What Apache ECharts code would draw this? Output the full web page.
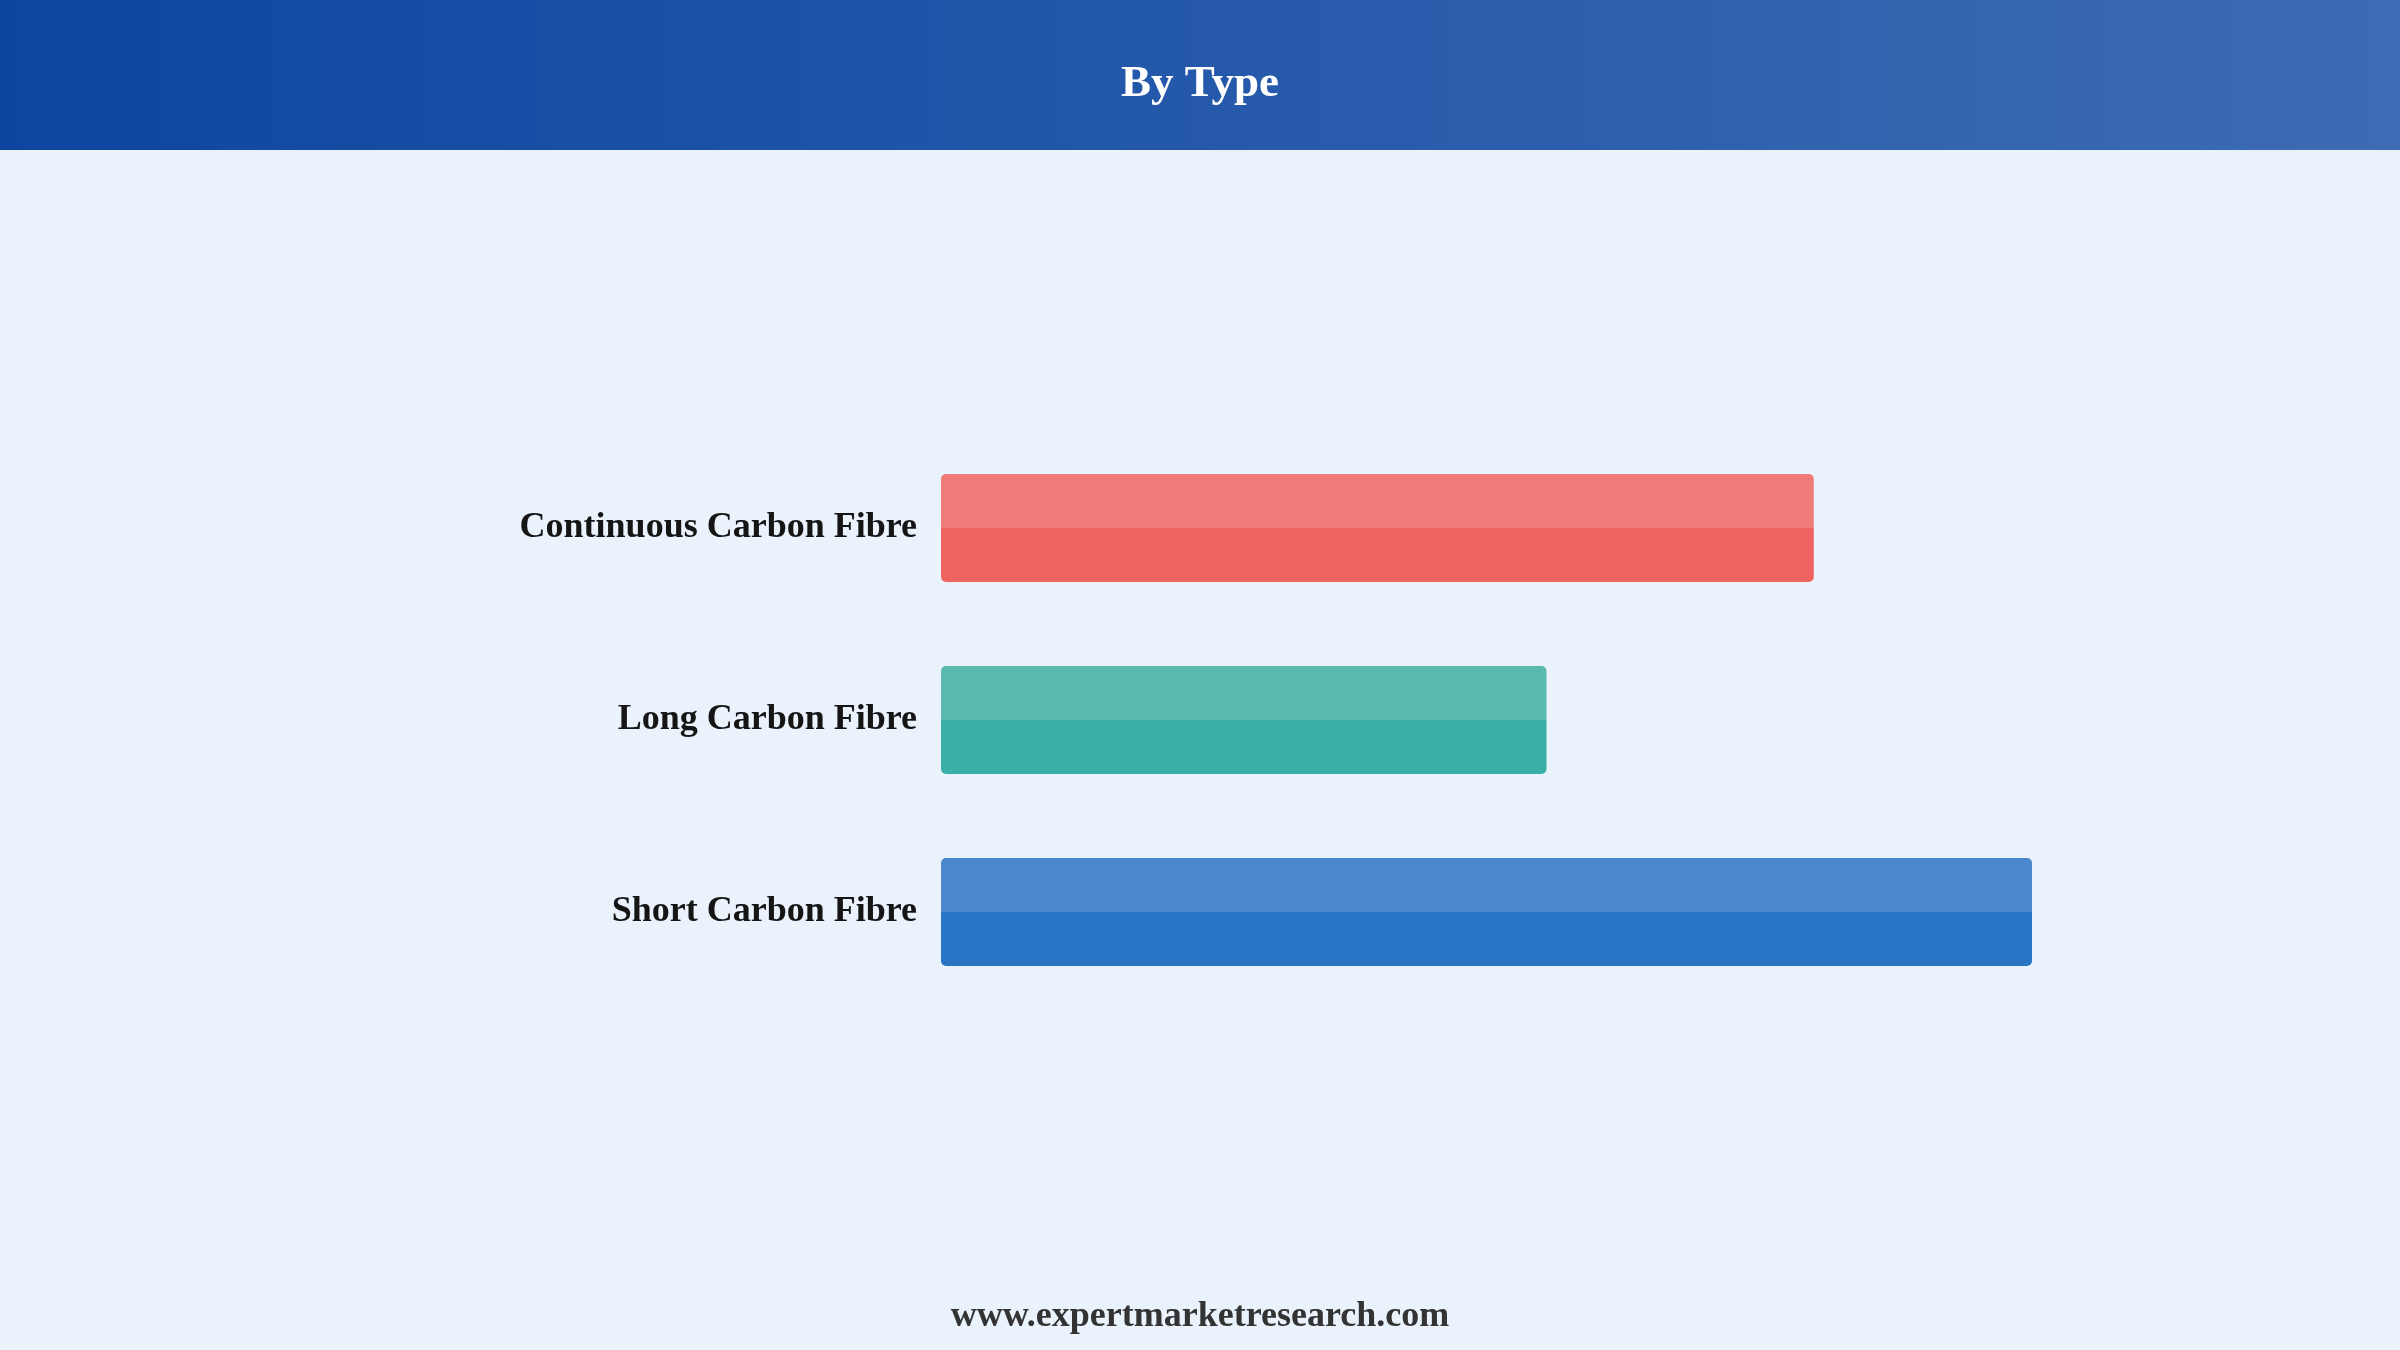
<!DOCTYPE html>
<html>
<head>
<meta charset="utf-8">
<script src="https://cdn.jsdelivr.net/npm/echarts@6/dist/echarts.min.js"></script>
<style>
html,body{margin:0;padding:0;background:#EAF2FC;}
#c{width:2400px;height:1350px;}
</style>
</head>
<body>
<div id="c"></div>
<script>
const categories = ['Continuous Carbon Fibre', 'Long Carbon Fibre', 'Short Carbon Fibre'];
const values = [32.0, 22.2, 40.0];
const topColors = ['#F07A78', '#5BBAB0', '#4A87CC'];
const bottomColors = ['#EF6461', '#3AAFA5', '#2A74C6'];

const chart = echarts.init(document.getElementById('c'));
const data = values.map((v, i) => ({
  value: v,
  itemStyle: {
    color: new echarts.graphic.LinearGradient(0, 0, 0, 1, [
      {offset: 0, color: topColors[i]},
      {offset: 0.5, color: topColors[i]},
      {offset: 0.5, color: bottomColors[i]},
      {offset: 1, color: bottomColors[i]}
    ]),
    borderRadius: 5
  }
}));

chart.setOption({
  backgroundColor: '#EAF2FC',
  animation: false,
  graphic: [
    {
      type: 'rect',
      left: 0, top: 0,
      shape: {width: 2400, height: 150},
      style: {
        fill: new echarts.graphic.LinearGradient(0, 0, 1, 0, [
          {offset: 0, color: '#0D45A0'},
          {offset: 1, color: '#3D6CB4'}
        ])
      },
      z: 0
    },
    {
      type: 'text',
      left: 'center',
      top: 62,
      style: {
        text: 'By Type',
        fill: '#FFFFFF',
        font: 'bold 45px "Liberation Serif", "Times New Roman", serif'
      },
      z: 10
    },
    {
      type: 'text',
      left: 'center',
      top: 1299,
      style: {
        text: 'www.expertmarketresearch.com',
        fill: '#333333',
        font: 'bold 36px "Liberation Serif", "Times New Roman", serif'
      },
      z: 10
    }
  ],
  grid: {left: 941, right: 368, top: 432, bottom: 342, containLabel: false},
  xAxis: {
    type: 'value',
    min: 0, max: 40,
    show: false
  },
  yAxis: {
    type: 'category',
    data: categories,
    inverse: true,
    axisLine: {show: false},
    axisTick: {show: false},
    splitLine: {show: false},
    axisLabel: {
      margin: 24,
      padding: [7, 0, 0, 0],
      backgroundColor: 'rgba(0,0,0,0)',
      color: '#151515',
      fontFamily: '"Liberation Serif", "Times New Roman", serif',
      fontWeight: 'bold',
      fontSize: 36
    }
  },
  series: [{
    type: 'bar',
    data: data,
    barWidth: 108,
    label: {show: false}
  }]
});
</script>
</body>
</html>
